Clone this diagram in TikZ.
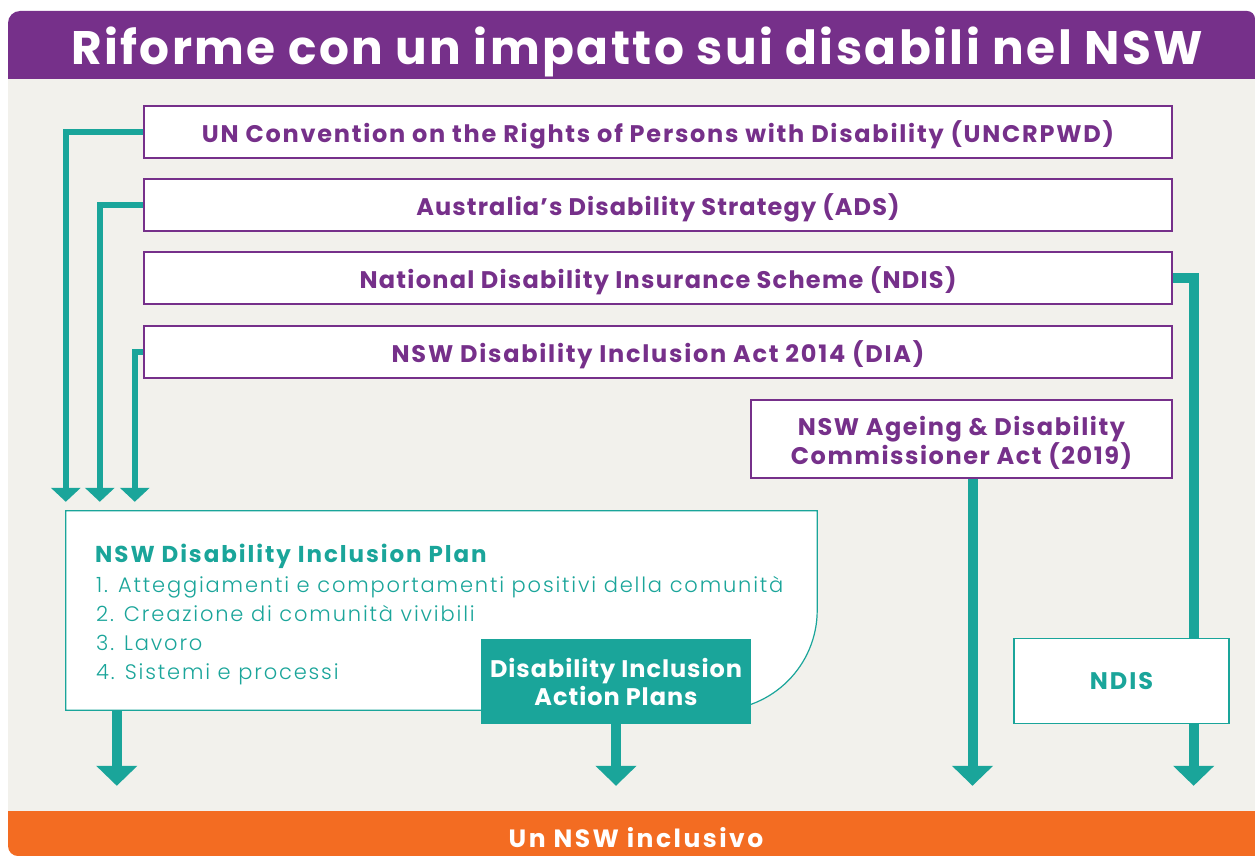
\documentclass[tikz,border=0pt]{standalone}
\usepackage{fontspec}
\setmainfont{Poppins}
\newfontfamily\plight{Poppins Light}
\usetikzlibrary{arrows.meta,calc}
\definecolor{purp}{HTML}{76308A}
\definecolor{tealc}{HTML}{1AA59A}
\definecolor{orng}{HTML}{F36C22}
\definecolor{bgc}{HTML}{F2F1EC}
\tikzset{
  pbox/.style={draw=purp, line width=1.3pt, fill=white, inner sep=0pt},
  ptext/.style={inner sep=0pt, text=purp, align=center,
    font=\bfseries\fontsize{24}{28}\selectfont\addfontfeature{LetterSpace=7.3}},
  tline/.style={draw=tealc, line width=6pt, -{Triangle[width=29pt,length=14pt]}},
  bigline/.style={draw=tealc, line width=10pt, -{Triangle[width=40pt,length=20pt]}},
  tbox/.style={draw=tealc, line width=1.2pt, fill=white, inner sep=0pt, text=tealc, align=center,
    font=\bfseries\fontsize{24}{28}\selectfont\addfontfeature{LetterSpace=8}},
  listtext/.style={anchor=base west, inner sep=0pt, text=tealc,
    font=\plight\fontsize{21}{29}\selectfont\addfontfeature{LetterSpace=8.7}},
}
\begin{document}
\begin{tikzpicture}[x=1pt,y=-1pt]
\useasboundingbox (0,0) rectangle (1255,856);
\fill[white] (0,0) rectangle (1255,856);
% frame
\fill[bgc] (8,79) rectangle (1255,811);
\fill[purp] (8,79) -- (8,23) arc[start angle=180, end angle=270, radius=12] -- (1247,11)
  arc[start angle=270, end angle=360, radius=8] -- (1255,79) -- cycle;
\fill[orng] (8,811) -- (8,846) arc[start angle=180, end angle=90, radius=10] -- (1255,856) -- (1255,811) -- cycle;
\node[anchor=base, inner sep=0pt, text=white,
  font=\bfseries\fontsize{47}{50}\selectfont\addfontfeature{LetterSpace=5.2}] (title) at (637,65)
  {Riforme con un impatto sui disabili nel NSW};
\node[inner sep=0pt, minimum width=1247pt, minimum height=45pt] (incl) at (631.5,833.5) {};
\node[anchor=base, inner sep=0pt, text=white,
  font=\bfseries\fontsize{25}{28}\selectfont\addfontfeature{LetterSpace=10}] (incltext) at (636,847)
  {Un NSW inclusivo};

% upper boxes
\node[pbox, minimum width=1028pt, minimum height=52pt] (un) at (658,132) {};
\node[ptext] (untext) at ($(un.center)+(0,2.5)$)
  {UN Convention on the Rights of Persons with Disability (UNCRPWD)};
\node[pbox, minimum width=1028pt, minimum height=52pt] (ads) at (658,205) {};
\node[ptext, font=\bfseries\fontsize{24}{28}\selectfont\addfontfeature{LetterSpace=4.6}] (adstext)
  at ($(ads.center)+(0,2.5)$)
  {Australia’s Disability Strategy (ADS)};
\node[pbox, minimum width=1028pt, minimum height=52pt] (ndis) at (658,278) {};
\node[ptext, font=\bfseries\fontsize{24}{28}\selectfont\addfontfeature{LetterSpace=5.3}] (ndistext)
  at ($(ndis.center)+(0,2.5)$)
  {National Disability Insurance Scheme (NDIS)};
\node[pbox, minimum width=1028pt, minimum height=52pt] (dia) at (658,352) {};
\node[ptext] (diatext) at ($(dia.center)+(0,2.5)$)
  {NSW Disability Inclusion Act 2014 (DIA)};
\node[pbox, minimum width=421pt, minimum height=78pt] (comm) at (961.5,439) {};
\node[ptext, font=\bfseries\fontsize{24}{28}\selectfont\addfontfeature{LetterSpace=6.5}] (commtext)
  at ($(comm.center)+(0,4)$)
  {NSW Ageing \& Disability\\Commissioner Act (2019)};

% plan box
\node[inner sep=0pt, minimum width=751pt, minimum height=199pt] (plan) at (441.5,610.5) {};
\draw[draw=tealc, line width=1.2pt, fill=white] (plan.north west) -- (plan.north east)
  -- ($(plan.south east)+(0,-100)$) arc[start angle=0, end angle=90, radius=100]
  -- (plan.south west) -- cycle;
\node[anchor=base west, inner sep=0pt, text=tealc,
  font=\bfseries\fontsize{23}{29}\selectfont\addfontfeature{LetterSpace=8.5}] (pt0) at (95,562)
  {NSW Disability Inclusion Plan};
\node[listtext] (pt1) at (96,592) {1. Atteggiamenti e comportamenti positivi della comunità};
\node[listtext] (pt2) at (96,621) {2. Creazione di comunità vivibili};
\node[listtext] (pt3) at (96,650) {3. Lavoro};
\node[listtext] (pt4) at (96,679) {4. Sistemi e processi};

\node[fill=tealc, inner sep=0pt, minimum width=270pt, minimum height=85pt, text=white, align=center,
  font=\bfseries\fontsize{24}{28}\selectfont\addfontfeature{LetterSpace=4}] (dap) at (616,681.5)
  {Disability Inclusion\\Action Plans};

% connectors
\draw[tline, shorten >=9pt] (un.west) -| (plan.north west);
\draw[tline, shorten >=9pt] (ads.west) -| ([xshift=34pt]plan.north west);
\draw[tline, shorten >=9pt] (dia.west) -| ([xshift=69pt]plan.north west);
\coordinate (r1) at ($(ndis.east)+(21,0)$);
\draw[bigline, shorten >=25pt] (ndis.east) -- (r1) -- (r1 |- incl.north);
\coordinate (c1) at ($(comm.south)+(11,0)$);
\draw[bigline, shorten >=25pt] (c1) -- (c1 |- incl.north);
\coordinate (p1) at ($(plan.south west)+(51,0)$);
\draw[bigline, shorten >=25pt] (p1) -- (p1 |- incl.north);
\draw[bigline, shorten >=25pt] (dap.south) -- (dap.south |- incl.north);

\node[tbox, minimum width=215pt, minimum height=85pt] (ndis2) at (1121.5,681) {NDIS};
\end{tikzpicture}
\end{document}
